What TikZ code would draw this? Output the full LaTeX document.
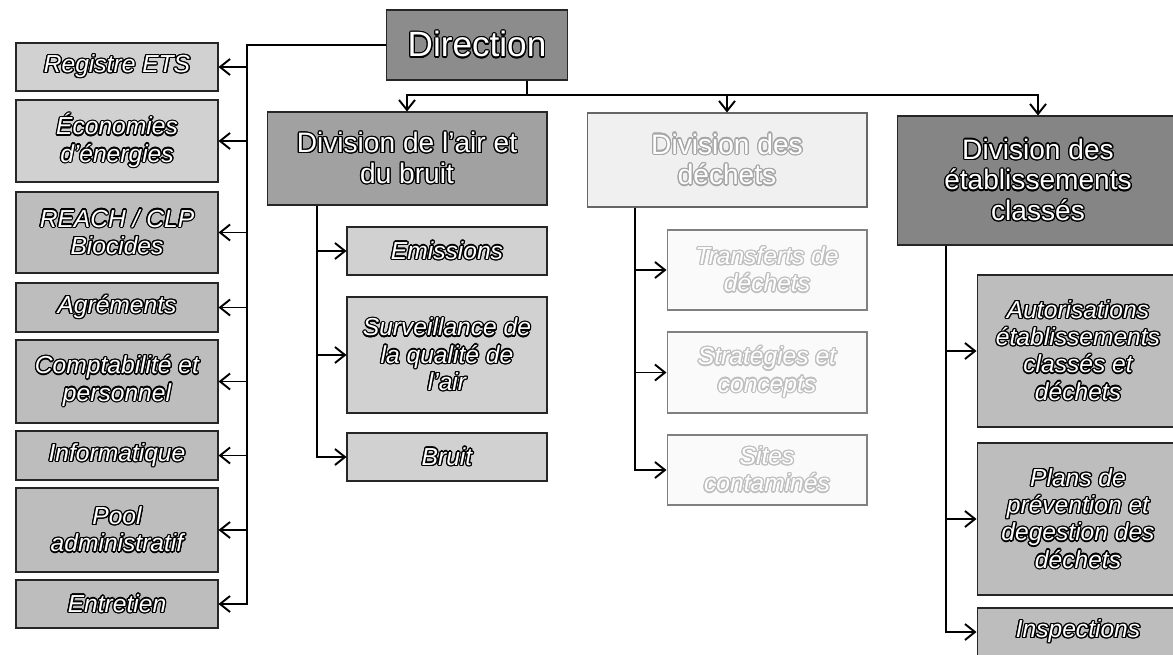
\documentclass[tikz,border=0pt]{standalone}
\usepackage{fontspec}
\setmainfont{Liberation Sans}
\usepackage{contour}
\contourlength{0.7pt}
\usetikzlibrary{arrows.meta}

% white text with a dark rim
\newcommand{\otxt}[2][black]{\contour{#1}{#2}}

\definecolor{dirgray}{gray}{0.55}
\definecolor{airgray}{gray}{0.63}
\definecolor{dechgray}{gray}{0.94}
\definecolor{etabgray}{gray}{0.52}
\definecolor{sidelight}{gray}{0.82}
\definecolor{sidedark}{gray}{0.74}
\definecolor{airleaf}{gray}{0.82}
\definecolor{dechleaf}{gray}{0.98}
\definecolor{etableaf}{gray}{0.74}

\tikzset{
  box/.style={draw=black!85, line width=0.6pt, inner sep=2pt, align=center, text=white},
  head/.style={box, font=\fontsize{16}{17.5}\selectfont, minimum width=5.6cm},
  leaf/.style={box, font=\fontsize{14}{15.5}\selectfont\itshape, minimum width=4cm},
  side/.style={leaf, minimum width=4.04cm},
  link/.style={line width=1.1pt, -{Straight Barb[length=2mm,width=3.2mm]}},
  trunk/.style={line width=1.1pt},
}

\begin{document}
\begin{tikzpicture}[x=0.02cm, y=-0.02cm]
\useasboundingbox (0,0) rectangle (1173,655);
\fill[white] (0,0) rectangle (1173,655);

%top
\node[box, font=\fontsize{20}{22}\selectfont, fill=dirgray, minimum width=3.62cm, minimum height=1.4cm] (dir) at (477,45) {\otxt{Direction}};

%side services
\coordinate (sideT) at (247,0);
\foreach \nm/\y/\h/\fl/\txt in {
  reg/67/48/sidelight/{\otxt{Registre ETS}},
  eco/141/82/sidelight/{\otxt{Économies}\\\otxt{d'énergies}},
  reach/232.5/81/sidedark/{\otxt{REACH / CLP}\\\otxt{Biocides}},
  agr/307.5/49/sidedark/{\otxt{Agréments}},
  compta/381.5/83/sidedark/{\otxt{Comptabilité et}\\\otxt{personnel}},
  info/455.5/49/sidedark/{\otxt{Informatique}},
  pool/530/84/sidedark/{\otxt{Pool}\\\otxt{administratif}},
  entr/604/48/sidedark/{\otxt{Entretien}}}
{
  \node[side, fill=\fl, minimum height=\h*0.02cm] (\nm) at (117,\y) {\txt};
  \draw[link] (dir.west) -| (sideT |- \nm.east) -- (\nm.east);
}

%divisions
\node[head, fill=airgray, minimum height=1.86cm] (air) at (407,158.5)
  {\otxt{Division de l'air et}\\\otxt{du bruit}};
\node[head, fill=dechgray, draw=black!60, minimum height=1.88cm] (dech) at (727,160)
  {\otxt[black!35]{Division des}\\\otxt[black!35]{déchets}};
\node[head, fill=etabgray, minimum width=5.64cm, minimum height=2.58cm] (etab) at (1038,180.5)
  {\otxt{Division des}\\\otxt{établissements}\\\otxt{classés}};

\coordinate (bus) at (527,95);
\draw[trunk] (dir.south -| bus) -- (bus);
\foreach \d in {air,dech,etab}
  \draw[link] (bus) -| (\d.north);

%air
\node[leaf, fill=airleaf, minimum height=0.96cm] (emi) at (447,251) {\otxt{Emissions}};
\node[leaf, fill=airleaf, minimum height=2.32cm] (surv) at (447,355)
  {\otxt{Surveillance de}\\\otxt{la qualité de}\\\otxt{l'air}};
\node[leaf, fill=airleaf, minimum height=0.96cm] (bruit) at (447,457) {\otxt{Bruit}};
\coordinate (airT) at (317,0);
\foreach \c in {emi,surv,bruit}
  \draw[link] (air.south -| airT) |- (\c.west);

%dechets
\node[leaf, fill=dechleaf, draw=black!50, minimum height=1.6cm] (trans) at (767,270)
  {\otxt[black!25]{Transferts de}\\\otxt[black!25]{déchets}};
\node[leaf, fill=dechleaf, draw=black!50, minimum height=1.62cm] (strat) at (767,372.5)
  {\otxt[black!25]{Stratégies et}\\\otxt[black!25]{concepts}};
\node[leaf, fill=dechleaf, draw=black!50, minimum height=1.4cm] (sites) at (767,470)
  {\otxt[black!25]{Sites}\\\otxt[black!25]{contaminés}};
\coordinate (dechT) at (635,0);
\foreach \c in {trans,strat,sites}
  \draw[link] (dech.south -| dechT) |- (\c.west);

%etablissements
\node[leaf, fill=etableaf, minimum width=4.04cm, minimum height=3.04cm] (auto) at (1078,351)
  {\otxt{Autorisations}\\\otxt{établissements}\\\otxt{classés et}\\\otxt{déchets}};
\node[leaf, fill=etableaf, minimum width=4.04cm, minimum height=3.04cm] (plans) at (1078,519)
  {\otxt{Plans de}\\\otxt{prévention et}\\\otxt{degestion des}\\\otxt{déchets}};
\node[leaf, fill=etableaf, minimum width=4.04cm, minimum height=0.96cm] (insp) at (1078,632)
  {\otxt{Inspections}};
\coordinate (etabT) at (946,0);
\foreach \c in {auto,plans,insp}
  \draw[link] (etab.south -| etabT) |- (\c.west);
\end{tikzpicture}
\end{document}
